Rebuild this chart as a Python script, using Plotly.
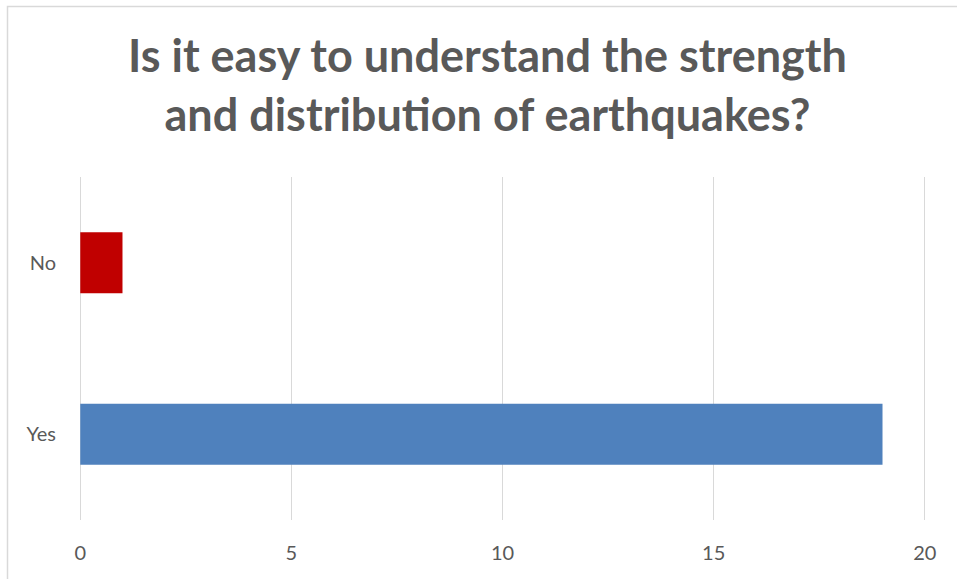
import plotly.graph_objects as go

categories = ["Yes", "No"]
values = [19, 1]
colors = ["#4F81BD", "#C00000"]
x_ticks = [0, 5, 10, 15, 20]
title_text = "Is it easy to understand the strength<br>and distribution of earthquakes?"

W, H = 957, 579
pad = 0.03
L, R, T, B = 79, 31, 177, 59
pw, ph = W - L - R, H - T - B

fig = go.Figure()
fig.add_trace(go.Bar(
    y=categories, x=values, orientation="h",
    marker=dict(color=colors, line=dict(width=0)),
    hoverinfo="x+y",
))

fig.update_layout(
    width=W, height=H,
    margin=dict(l=L, r=R, t=T, b=B),
    paper_bgcolor="white", plot_bgcolor="white",
    bargap=0.645,
    showlegend=False,
    title=dict(
        text=title_text,
        font=dict(family="Lato", size=45, color="#595959", weight="bold"),
        x=487.5 / W, xanchor="center", xref="container",
        y=1 - 72 / H, yanchor="middle", yref="container",
    ),
    font=dict(family="Lato", size=20, color="#595959"),
    xaxis=dict(
        range=[-pad, 20 + pad], tickvals=x_ticks, showgrid=True, gridcolor="#d9d9d9",
        gridwidth=1, zeroline=False, showline=False, ticks="",
        tickfont=dict(size=20, color="#595959"), ticklabelstandoff=19,
    ),
    yaxis=dict(
        categoryorder="array", categoryarray=categories,
        showgrid=False, zeroline=False, showline=False, ticks="",
        tickfont=dict(size=20, color="#595959"), ticklabelstandoff=22,
    ),
    shapes=[dict(
        type="rect", xref="paper", yref="paper",
        x0=(7.5 - L) / pw, x1=(W + 5 - L) / pw,
        y0=(T + ph - (H + 5)) / ph, y1=(T + ph - 6.5) / ph,
        line=dict(color="#d9d9d9", width=1.5), fillcolor="rgba(0,0,0,0)",
        layer="below",
    )],
)

fig.write_html("out.html")
